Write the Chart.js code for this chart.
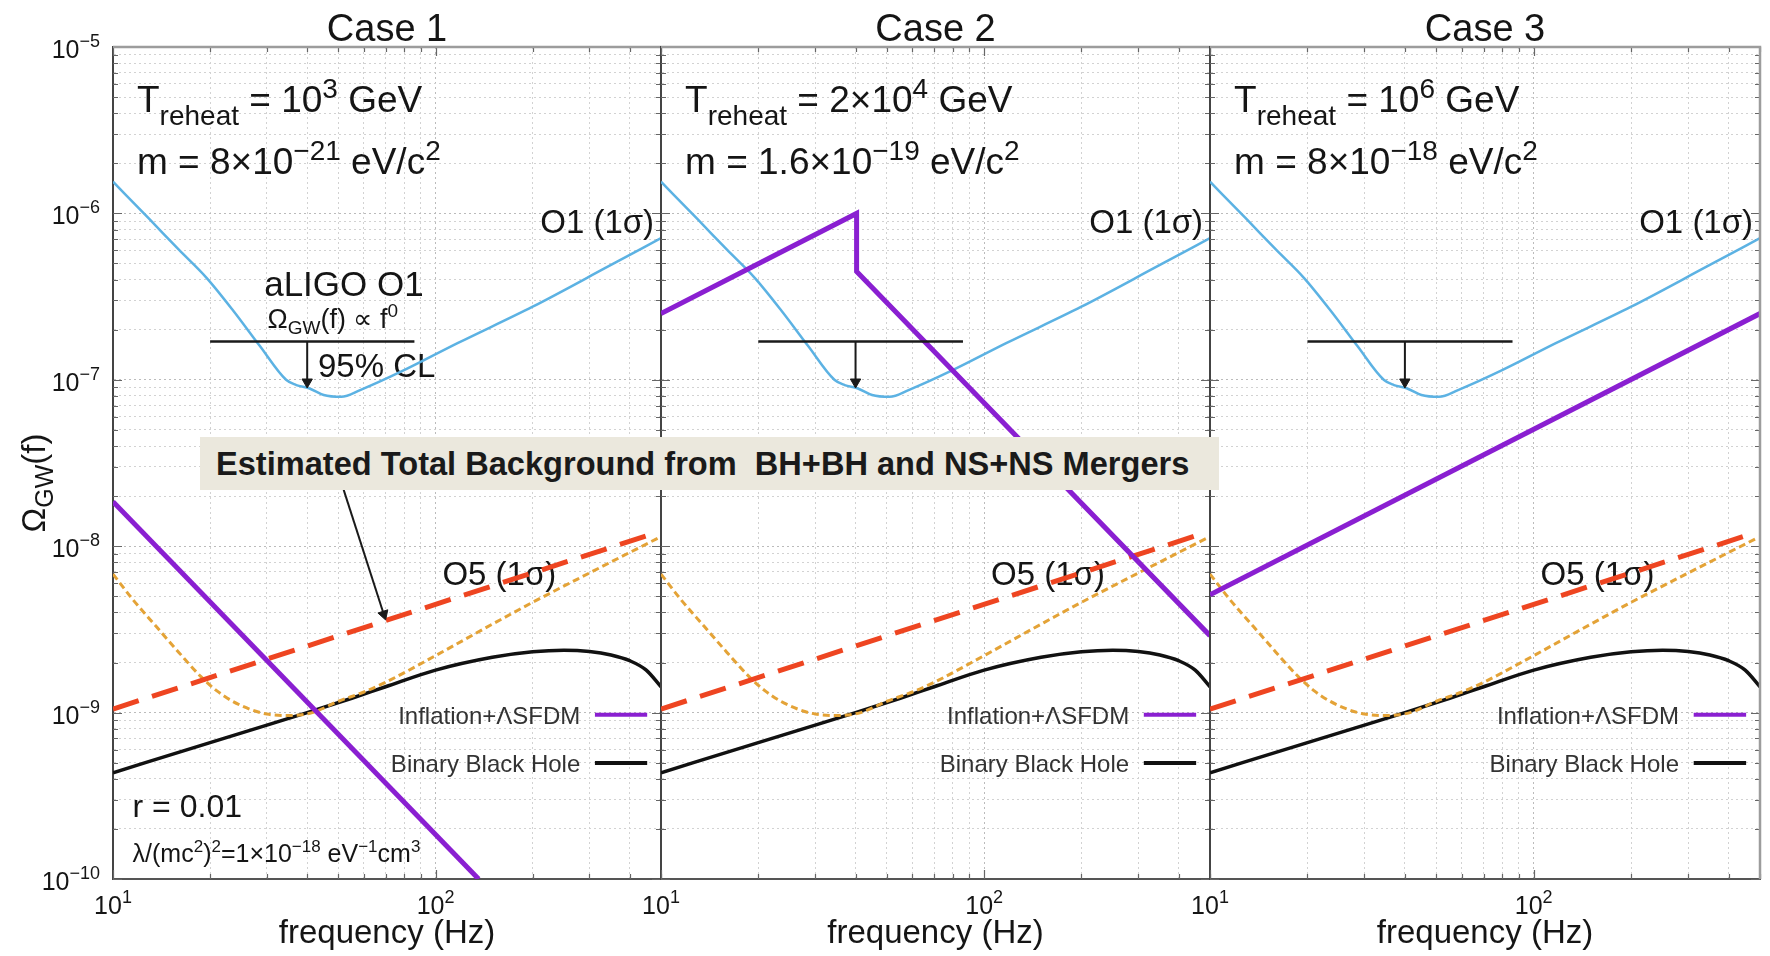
<!DOCTYPE html>
<html>
<head>
<meta charset="utf-8">
<script src="https://cdn.jsdelivr.net/npm/chart.js@4.4.1/dist/chart.umd.min.js"></script>
<style>
  html, body { margin: 0; padding: 0; background: #fff; }
  body { width: 1770px; height: 956px; position: relative; overflow: hidden; }
  canvas { position: absolute; top: 0; }
  #c1 { left: 0; }
  #c2 { left: 630px; }
  #c3 { left: 1180px; }
  #banner {
    position: absolute; left: 200px; top: 437px; width: 1019px; height: 53px;
    background: #ebe8dd; color: #1a1a1a; box-sizing: border-box; padding-left: 16px;
    font: bold 32.6px 'Liberation Sans', Arial, sans-serif; line-height: 53px; white-space: pre;
  }
</style>
</head>
<body>
<canvas id="c1" width="680" height="956"></canvas>
<canvas id="c2" width="600" height="956"></canvas>
<canvas id="c3" width="590" height="956"></canvas>
<div id="banner">Estimated Total Background from  BH+BH and NS+NS Mergers</div>
<script>
const FONT = "'Liberation Sans', Arial, Helvetica, sans-serif";

// panel titles and the reheating / mass parameters of each case
const panelTitles = ['Case 1', 'Case 2', 'Case 3'];
const reheatValue = ['10', '2×10', '10'];
const reheatPower = ['3', '4', '6'];
const massValue = ['8×10', '1.6×10', '8×10'];
const massPower = ['−21', '−19', '−18'];

// aLIGO O1 sensitivity (1 sigma)
const freqO1 = [10, 13, 16, 19.5, 23.6, 28.5, 34.4, 37, 40.5, 45, 51, 58.6, 79, 117, 200, 343, 500];
const omegaO1 = [1.55e-6, 9.2e-7, 6.05e-7, 4.1e-7, 2.6e-7, 1.6e-7, 1.0e-7, 9.3e-8, 8.9e-8, 8.1e-8, 7.9e-8, 8.7e-8, 1.13e-7, 1.66e-7, 2.75e-7, 4.8e-7, 7.1e-7];

// O5 design sensitivity (1 sigma)
const freqO5 = [10, 11.5, 13.6, 16, 18.7, 21, 23.3, 26.5, 30, 35, 41.5, 50, 60, 70, 100, 150, 200, 300, 490];
const omegaO5 = [6.8e-9, 4.8e-9, 3.3e-9, 2.3e-9, 1.65e-9, 1.35e-9, 1.18e-9, 1.05e-9, 9.8e-10, 9.6e-10, 1.0e-9, 1.17e-9, 1.33e-9, 1.52e-9, 2.2e-9, 3.4e-9, 4.6e-9, 6.9e-9, 1.12e-8];

// estimated total background from BH+BH and NS+NS mergers
const freqBackground = [10, 480];
const omegaBackground = [1.05e-9, 1.2e-8];

// binary black hole background
const freqBBH = [10, 20, 30, 40, 55, 70, 100, 150, 200, 250, 300, 350, 400, 450, 500];
const omegaBBH = [4.35e-10, 6.6e-10, 8.4e-10, 1.0e-9, 1.22e-9, 1.43e-9, 1.8e-9, 2.15e-9, 2.32e-9, 2.37e-9, 2.33e-9, 2.22e-9, 2.05e-9, 1.8e-9, 1.43e-9];

// inflation + Lambda SFDM, one curve per case
const freqInflation = [[10, 136], [10, 40.3, 40.3, 500], [10, 500]];
const omegaInflation = [[1.85e-8, 1.0e-10], [2.5e-7, 1.0e-6, 4.47e-7, 2.9e-9], [5.1e-9, 2.5e-7]];

// O1 95% CL upper limit for a flat spectrum
const freqLimit = [20, 86];
const omegaLimit = [1.7e-7, 1.7e-7];
const freqLimitArrow = [40, 40];
const omegaLimitArrow = [1.7e-7, 9.7e-8];

// pointer from the background label down to the dashed curve
const freqBannerArrow = [51.9, 69.1];
const omegaBannerArrow = [2.18e-8, 3.9e-9];

// axis ticks: labelled decades as base 10 with a raised power
const xDecades = [10, 100];
const xTickPowers = ['1', '2'];
const yDecades = [1e-10, 1e-9, 1e-8, 1e-7, 1e-6, 1e-5];
const yTickPowers = ['−10', '−9', '−8', '−7', '−6', '−5'];

const xTicks = [];
for (const d of xDecades) for (let k = 1; k <= 9; k++) if (d * k <= 500) xTicks.push(d * k);
xTicks.push(500);
const yTicks = [];
for (const d of yDecades.slice(0, -1)) for (let k = 1; k <= 9; k++) yTicks.push(+(d * k).toPrecision(3));
yTicks.push(1e-5);

// where the annotations sit, in (Hz, Omega) units
const at = {
  params: { f: 11.87, line1: 4.07e-6, line2: 1.73e-6 },
  o1Label: { f: 476, y: 7.6e-7 },
  o5Label: { f: 105, y: 5.85e-9 },
  legend: { textF: 281, lineF: [312, 453], rows: [[8.55e-10, 9.7e-10], [4.4e-10, 4.98e-10]] },
  aligo: { f: 52, y: 3.2e-7 },
  aligoLaw: { f: 48, y: 2.05e-7 },
  cl: { f: 43.2, y: 1.04e-7 },
  r: { f: 11.5, y: 2.36e-10 },
  lambda: { f: 11.5, y: 1.26e-10 },
};

function richText(ctx, runs, x, y, align) {
  let width = 0;
  for (const [text, size] of runs) {
    ctx.font = size + 'px ' + FONT;
    width += ctx.measureText(text).width;
  }
  let cx = align === 'right' ? x - width : align === 'center' ? x - width / 2 : x;
  ctx.textAlign = 'left';
  for (const [text, size, shift = 0] of runs) {
    ctx.font = size + 'px ' + FONT;
    ctx.fillText(text, cx, y + shift);
    cx += ctx.measureText(text).width;
  }
}

function isDecade(v) {
  const e = Math.log10(v);
  return Math.abs(e - Math.round(e)) < 1e-9;
}

function curve(fs, omegas, style, order) {
  return Object.assign({
    data: fs.map((f, k) => ({ x: f, y: omegas[k] })),
    pointRadius: 0, pointHoverRadius: 0, fill: false, tension: 0, order
  }, style);
}

function arrowHead(f, omega, rotation) {
  return {
    data: [{ x: f, y: omega }], showLine: false, pointStyle: 'triangle',
    pointRadius: 6, pointRotation: rotation, backgroundColor: '#1a1a1a',
    borderColor: '#1a1a1a', borderWidth: 1, order: 0
  };
}

function panelDecor(i) {
  return {
    id: 'panelDecor' + i,
    beforeDatasetsDraw(chart) {
      const { ctx, chartArea, scales: { x, y } } = chart;
      const px = f => x.getPixelForValue(f);
      const py = v => y.getPixelForValue(v);
      ctx.save();
      ctx.textBaseline = 'alphabetic';

      // inward tick marks on all four sides
      ctx.strokeStyle = '#666';
      ctx.lineWidth = 1.2;
      ctx.beginPath();
      for (const v of yTicks) {
        const yy = Math.round(py(v)) + 0.5, len = isDecade(v) ? 9 : 5;
        ctx.moveTo(chartArea.left, yy); ctx.lineTo(chartArea.left + len, yy);
        ctx.moveTo(chartArea.right, yy); ctx.lineTo(chartArea.right - len, yy);
      }
      for (const v of xTicks) {
        const xx = Math.round(px(v)) + 0.5, len = isDecade(v) ? 9 : 5;
        ctx.moveTo(xx, chartArea.bottom); ctx.lineTo(xx, chartArea.bottom - len);
        ctx.moveTo(xx, chartArea.top); ctx.lineTo(xx, chartArea.top + len);
      }
      ctx.stroke();

      ctx.fillStyle = '#151515';
      // tick labels
      xDecades.forEach((d, k) => richText(ctx, [['10', 25], [xTickPowers[k], 18, -11]], px(d), chartArea.bottom + 35, 'center'));
      if (i === 0) {
        yDecades.forEach((d, k) => richText(ctx, [['10', 25], [yTickPowers[k], 18, -11]], chartArea.left - 13, py(d) + 11, 'right'));
      }

      richText(ctx, [[panelTitles[i], 38]], (chartArea.left + chartArea.right) / 2, chartArea.top - 6, 'center');

      const p = at.params;
      richText(ctx, [['T', 37], ['reheat', 28, 13], [' = ' + reheatValue[i], 37], [reheatPower[i], 28, -14], [' GeV', 37]],
        px(p.f), py(p.line1), 'left');
      richText(ctx, [['m = ' + massValue[i], 37], [massPower[i], 28, -14], [' eV/c', 37], ['2', 28, -14]],
        px(p.f), py(p.line2), 'left');

      richText(ctx, [['O1 (1σ)', 33]], px(at.o1Label.f), py(at.o1Label.y), 'right');
      richText(ctx, [['O5 (1σ)', 33]], px(at.o5Label.f), py(at.o5Label.y), 'left');

      // legend
      const lg = at.legend;
      ctx.fillStyle = '#333';
      richText(ctx, [['Inflation+ΛSFDM', 24]], px(lg.textF), py(lg.rows[0][0]), 'right');
      richText(ctx, [['Binary Black Hole', 24]], px(lg.textF), py(lg.rows[1][0]), 'right');
      ctx.lineWidth = 4;
      ctx.strokeStyle = '#8a1fd1';
      ctx.beginPath();
      ctx.moveTo(px(lg.lineF[0]), py(lg.rows[0][1]));
      ctx.lineTo(px(lg.lineF[1]), py(lg.rows[0][1]));
      ctx.stroke();
      ctx.strokeStyle = '#111';
      ctx.beginPath();
      ctx.moveTo(px(lg.lineF[0]), py(lg.rows[1][1]));
      ctx.lineTo(px(lg.lineF[1]), py(lg.rows[1][1]));
      ctx.stroke();

      ctx.fillStyle = '#151515';
      if (i === 0) {
        richText(ctx, [['aLIGO O1', 35]], px(at.aligo.f), py(at.aligo.y), 'center');
        richText(ctx, [['Ω', 27], ['GW', 19, 6], ['(f) ∝ f', 27], ['0', 19, -11]], px(at.aligoLaw.f), py(at.aligoLaw.y), 'center');
        richText(ctx, [['95% CL', 33]], px(at.cl.f), py(at.cl.y), 'left');
        richText(ctx, [['r = 0.01', 32]], px(at.r.f), py(at.r.y), 'left');
        richText(ctx, [['λ/(mc', 25], ['2', 17, -10], [')', 25], ['2', 17, -10], ['=1×10', 25], ['−18', 17, -10],
          [' eV', 25], ['−1', 17, -10], ['cm', 25], ['3', 17, -10]], px(at.lambda.f), py(at.lambda.y), 'left');

        // y axis title
        ctx.save();
        ctx.translate(34, (chartArea.top + chartArea.bottom) / 2 + 20);
        ctx.rotate(-Math.PI / 2);
        richText(ctx, [['Ω', 33], ['GW', 25, 8], ['(f)', 33]], 0, 11, 'center');
        ctx.restore();
      }
      ctx.restore();
    },
    afterDraw(chart) {
      const { ctx, chartArea } = chart;
      ctx.save();
      ctx.strokeStyle = '#9c9c9c';
      ctx.lineWidth = 2.5;
      ctx.beginPath();
      ctx.moveTo(chartArea.left, chartArea.top);
      ctx.lineTo(chartArea.right, chartArea.top);
      if (i === 2) ctx.lineTo(chartArea.right, chartArea.bottom);
      ctx.stroke();
      ctx.restore();
    }
  };
}

const layout = [
  { id: 'c1', padLeft: 0, padRight: 19, axisWidth: 113 },
  { id: 'c2', padLeft: 31, padRight: 20, axisWidth: 0 },
  { id: 'c3', padLeft: 30, padRight: 10, axisWidth: 0 },
];

const gridColor = ctx => (ctx.tick && isDecade(ctx.tick.value)) ? '#bbbbbb' : '#d2d2d2';

layout.forEach((L, i) => {
  const datasets = [
    curve(freqInflation[i], omegaInflation[i], { borderColor: '#8a1fd1', borderWidth: 5 }, 1),
    curve(freqBackground, omegaBackground, { borderColor: '#ee4521', borderWidth: 5, borderDash: [27, 14] }, 2),
    curve(freqO5, omegaO5, { borderColor: '#e4a337', borderWidth: 3, borderDash: [7, 4], cubicInterpolationMode: 'monotone' }, 3),
    curve(freqBBH, omegaBBH, { borderColor: '#111', borderWidth: 3.5, cubicInterpolationMode: 'monotone' }, 4),
    curve(freqO1, omegaO1, { borderColor: '#5cb2e3', borderWidth: 2.5, cubicInterpolationMode: 'monotone' }, 5),
    curve(freqLimit, omegaLimit, { borderColor: '#1a1a1a', borderWidth: 2.5 }, 0),
    curve(freqLimitArrow, omegaLimitArrow, { borderColor: '#1a1a1a', borderWidth: 2 }, 0),
    arrowHead(freqLimitArrow[1], omegaLimitArrow[1], 180),
  ];
  if (i === 0) {
    datasets.push(curve(freqBannerArrow, omegaBannerArrow, { borderColor: '#1a1a1a', borderWidth: 2 }, 0));
    datasets.push(arrowHead(freqBannerArrow[1], omegaBannerArrow[1], 162));
  }

  new Chart(document.getElementById(L.id), {
    type: 'line',
    data: { datasets },
    plugins: [panelDecor(i)],
    options: {
      responsive: false,
      animation: false,
      events: [],
      layout: { padding: { left: L.padLeft, right: L.padRight, top: 47, bottom: 0 } },
      plugins: { legend: { display: false }, tooltip: { enabled: false } },
      scales: {
        x: {
          type: 'logarithmic', min: 10, max: 500,
          afterBuildTicks: s => { s.ticks = xTicks.map(v => ({ value: v })); },
          afterFit: s => { s.height = 77; },
          ticks: { display: false, autoSkip: false, maxRotation: 0 },
          grid: { color: gridColor, lineWidth: 1, drawTicks: false },
          border: { display: true, color: '#555', width: 2, dash: [2, 3] },
          title: { display: true, text: 'frequency (Hz)', color: '#151515', font: { family: FONT, size: 33 }, padding: { top: 0, bottom: 2 } }
        },
        y: {
          type: 'logarithmic', min: 1e-10, max: 1e-5,
          afterBuildTicks: s => { s.ticks = yTicks.map(v => ({ value: v })); },
          afterFit: s => { s.width = L.axisWidth; },
          ticks: { display: false, autoSkip: false },
          grid: { color: gridColor, lineWidth: 1, drawTicks: false },
          border: { display: true, color: '#444', width: 2, dash: [2, 3] }
        }
      }
    }
  });
});
</script>
</body>
</html>
